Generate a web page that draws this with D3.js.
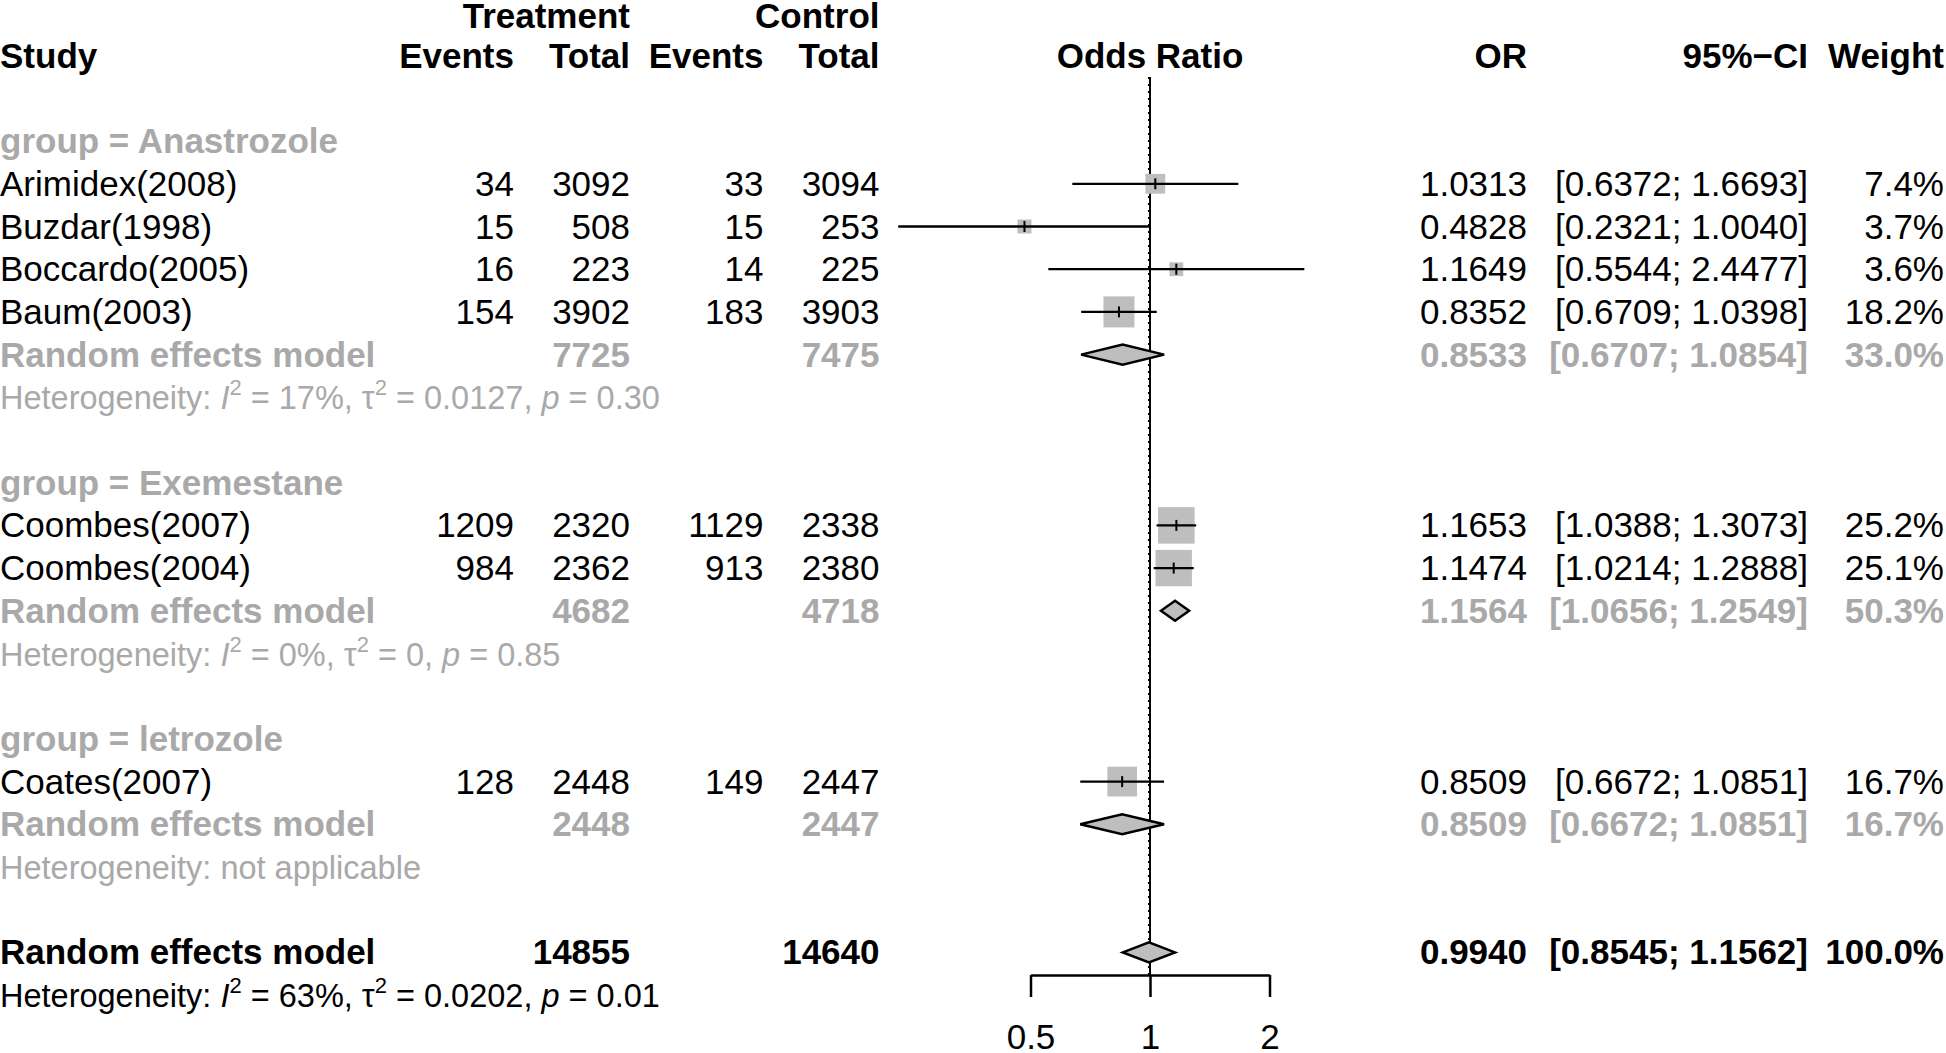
<!DOCTYPE html>
<html>
<head>
<meta charset="utf-8">
<script src="https://cdn.jsdelivr.net/npm/d3@7"></script>
<style>
  body { margin: 0; background: #fff; }
  svg { display: block; font-family: "Liberation Sans", Arial, Helvetica, sans-serif; }
</style>
</head>
<body>
<svg id="chart" width="1946" height="1053"></svg>
<script>
// study level data
var studies  = ["Arimidex(2008)", "Buzdar(1998)", "Boccardo(2005)", "Baum(2003)", "Coombes(2007)", "Coombes(2004)", "Coates(2007)"];
var studyGroup = [0, 0, 0, 0, 1, 1, 2];
var eventsT  = [34, 15, 16, 154, 1209, 984, 128];
var totalT   = [3092, 508, 223, 3902, 2320, 2362, 2448];
var eventsC  = [33, 15, 14, 183, 1129, 913, 149];
var totalC   = [3094, 253, 225, 3903, 2338, 2380, 2447];
var oddsRatio = [1.0313, 0.4828, 1.1649, 0.8352, 1.1653, 1.1474, 0.8509];
var lowerCI  = [0.6372, 0.2321, 0.5544, 0.6709, 1.0388, 1.0214, 0.6672];
var upperCI  = [1.6693, 1.0040, 2.4477, 1.0398, 1.3073, 1.2888, 1.0851];
var weights  = [7.4, 3.7, 3.6, 18.2, 25.2, 25.1, 16.7];

// subgroup summaries
var groups      = ["Anastrozole", "Exemestane", "letrozole"];
var groupTotT   = [7725, 4682, 2448];
var groupTotC   = [7475, 4718, 2447];
var groupOR     = [0.8533, 1.1564, 0.8509];
var groupLower  = [0.6707, 1.0656, 0.6672];
var groupUpper  = [1.0854, 1.2549, 1.0851];
var groupWeight = [33.0, 50.3, 16.7];
// heterogeneity: I2, tau2, p  (null = not applicable)
var groupI2   = ["17%", "0%", null];
var groupTau2 = ["0.0127", "0", null];
var groupP    = ["0.30", "0.85", null];

// overall
var overallTot = [14855, 14640];
var overallEst = [0.9940, 0.8545, 1.1562];
var overallWeight = 100.0;
var overallHet = ["63%", "0.0202", "0.01"];

var axisTicks = [0.5, 1, 2];

var svg = d3.select("#chart");
var FS = 35, FS_HET = 32.5;
var GREY = "#a9a9a9", BOX = "#bebebe";

var y = d3.scaleLinear().domain([0, 23]).range([25, 25 + 23 * 42.7]);
var mid = function(i) { return y(i) - 12; };
var x = d3.scaleLog().base(2).domain([0.5, 2]).range([1030.5, 1269.5]);
var boxSide = d3.scaleSqrt().domain([0, d3.max(weights)]).range([0, 36.5]);

var col = { evT: 514, totT: 630, evC: 763.5, totC: 879.5, or: 1527, ci: 1808, w: 1944 };
var f4 = d3.format(".4f"), f1 = d3.format(".1f");

var gText = svg.append("g").attr("font-size", FS);
var gPlot = svg.append("g");

function txt(row, xpos, s, opts) {
  opts = opts || {};
  return gText.append("text")
    .attr("x", xpos).attr("y", row === 0 ? 28 : y(row))
    .attr("text-anchor", opts.anchor || "end")
    .attr("font-weight", opts.bold ? "bold" : "normal")
    .attr("fill", opts.color || "#000")
    .text(s);
}

function hetText(row, i2, tau2, p, color) {
  var t = gText.append("text").attr("x", 0).attr("y", y(row))
    .attr("font-size", FS_HET).attr("fill", color);
  if (i2 === null) { t.text("Heterogeneity: not applicable"); return; }
  t.append("tspan").text("Heterogeneity: ");
  t.append("tspan").attr("font-style", "italic").text("I");
  t.append("tspan").attr("dy", -14).attr("font-size", 22).text("2");
  t.append("tspan").attr("dy", 14).text(" = " + i2 + ", \u03c4");
  t.append("tspan").attr("dy", -14).attr("font-size", 22).text("2");
  t.append("tspan").attr("dy", 14).text(" = " + tau2 + ", ");
  t.append("tspan").attr("font-style", "italic").text("p");
  t.append("tspan").text(" = " + p);
}

function diamond(row, est, lo, hi) {
  var c = mid(row);
  var pts = [[x(lo), c], [x(est), c - 10], [x(hi), c], [x(est), c + 10]];
  gPlot.append("path")
    .attr("d", d3.line()(pts) + "Z")
    .attr("fill", BOX).attr("stroke", "#000").attr("stroke-width", 2.5)
    .attr("stroke-linejoin", "miter");
}

// header
txt(0, col.totT, "Treatment", { bold: true });
txt(0, col.totC, "Control", { bold: true });
txt(1, 0, "Study", { bold: true, anchor: "start" });
txt(1, col.evT, "Events", { bold: true });
txt(1, col.totT, "Total", { bold: true });
txt(1, col.evC, "Events", { bold: true });
txt(1, col.totC, "Total", { bold: true });
txt(1, x(1), "Odds Ratio", { bold: true, anchor: "middle" });
txt(1, col.or, "OR", { bold: true });
txt(1, col.ci, "95%\u2212CI", { bold: true });
txt(1, col.w, "Weight", { bold: true });

// reference lines
gPlot.append("line")
  .attr("x1", x(overallEst[0])).attr("x2", x(overallEst[0]))
  .attr("y1", 77).attr("y2", 975)
  .attr("stroke", "#000").attr("stroke-width", 2).attr("stroke-dasharray", "2,5");
gPlot.append("line")
  .attr("x1", x(1)).attr("x2", x(1))
  .attr("y1", 77).attr("y2", 975)
  .attr("stroke", "#000").attr("stroke-width", 2);

var row = 3;
groups.forEach(function(g, gi) {
  txt(row, 0, "group = " + g, { bold: true, anchor: "start", color: GREY });
  row++;
  studies.forEach(function(s, i) {
    if (studyGroup[i] !== gi) return;
    txt(row, 0, s, { anchor: "start" });
    txt(row, col.evT, eventsT[i]);
    txt(row, col.totT, totalT[i]);
    txt(row, col.evC, eventsC[i]);
    txt(row, col.totC, totalC[i]);
    txt(row, col.or, f4(oddsRatio[i]));
    txt(row, col.ci, "[" + f4(lowerCI[i]) + "; " + f4(upperCI[i]) + "]");
    txt(row, col.w, f1(weights[i]) + "%");
    var c = mid(row), side = boxSide(weights[i]);
    gPlot.append("rect")
      .attr("x", x(oddsRatio[i]) - side / 2).attr("y", c - side / 2)
      .attr("width", side).attr("height", side)
      .attr("fill", BOX);
    gPlot.append("line")
      .attr("x1", x(lowerCI[i])).attr("x2", x(upperCI[i]))
      .attr("y1", c).attr("y2", c)
      .attr("stroke", "#000").attr("stroke-width", 2.3);
    gPlot.append("line")
      .attr("x1", x(oddsRatio[i])).attr("x2", x(oddsRatio[i]))
      .attr("y1", c - 5.5).attr("y2", c + 5.5)
      .attr("stroke", "#000").attr("stroke-width", 2);
    row++;
  });
  txt(row, 0, "Random effects model", { bold: true, anchor: "start", color: GREY });
  txt(row, col.totT, groupTotT[gi], { bold: true, color: GREY });
  txt(row, col.totC, groupTotC[gi], { bold: true, color: GREY });
  txt(row, col.or, f4(groupOR[gi]), { bold: true, color: GREY });
  txt(row, col.ci, "[" + f4(groupLower[gi]) + "; " + f4(groupUpper[gi]) + "]", { bold: true, color: GREY });
  txt(row, col.w, f1(groupWeight[gi]) + "%", { bold: true, color: GREY });
  diamond(row, groupOR[gi], groupLower[gi], groupUpper[gi]);
  row++;
  hetText(row, groupI2[gi], groupTau2[gi], groupP[gi], GREY);
  row += 2;
});

// overall
txt(row, 0, "Random effects model", { bold: true, anchor: "start" });
txt(row, col.totT, overallTot[0], { bold: true });
txt(row, col.totC, overallTot[1], { bold: true });
txt(row, col.or, f4(overallEst[0]), { bold: true });
txt(row, col.ci, "[" + f4(overallEst[1]) + "; " + f4(overallEst[2]) + "]", { bold: true });
txt(row, col.w, f1(overallWeight) + "%", { bold: true });
diamond(row, overallEst[0], overallEst[1], overallEst[2]);
row++;
hetText(row, overallHet[0], overallHet[1], overallHet[2], "#000");

// axis
var axis = d3.axisBottom(x).tickValues(axisTicks).tickFormat(d3.format("")).tickSize(22).tickSizeOuter(0).tickPadding(27);
var ax = svg.append("g").attr("transform", "translate(0,975)").call(axis);
ax.selectAll("path, line").attr("stroke", "#000").attr("stroke-width", 2.5);
ax.selectAll("text").attr("font-size", FS).attr("fill", "#000")
  .attr("font-family", "Liberation Sans, Arial, Helvetica, sans-serif");
</script>
</body>
</html>
